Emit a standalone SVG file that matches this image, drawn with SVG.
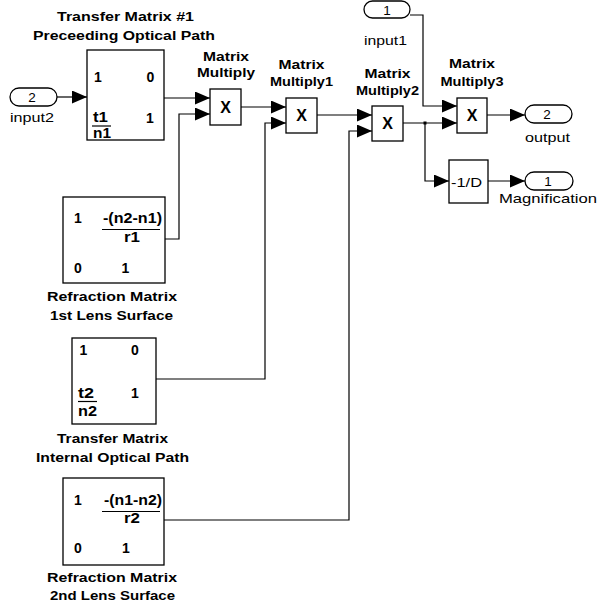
<svg xmlns="http://www.w3.org/2000/svg" width="597" height="607" viewBox="0 0 597 607">
<defs>
<style>
.blk{fill:#fff;stroke:#000;stroke-width:1.3}
.port{fill:#fff;stroke:#000;stroke-width:1.3}
.ln{fill:none;stroke:#000;stroke-width:1.2}
text{font-family:"Liberation Sans",Arial,sans-serif;font-size:13.5px;fill:#000}
.b{font-weight:bold}
.e{font-weight:bold;font-size:14px}
.m{text-anchor:middle}
.bx{font-weight:bold;font-size:16px;text-anchor:middle}
</style>
<marker id="arr" markerUnits="userSpaceOnUse" markerWidth="15" markerHeight="13" refX="15" refY="6.5" orient="auto">
<path d="M0,0 L15,6.5 L0,13 z" fill="#000"/>
</marker>
</defs>
<rect width="597" height="607" fill="#fff"/>

<g id="connectors">
<path class="ln" d="M57,97 H87" marker-end="url(#arr)"/>
<path class="ln" d="M164,98 H210" marker-end="url(#arr)"/>
<path class="ln" d="M165,239 H179 V114 H210" marker-end="url(#arr)"/>
<path class="ln" d="M241,107 H286" marker-end="url(#arr)"/>
<path class="ln" d="M156,379 H265 V123 H286" marker-end="url(#arr)"/>
<path class="ln" d="M317,115 H372" marker-end="url(#arr)"/>
<path class="ln" d="M164,520 H349 V131 H372" marker-end="url(#arr)"/>
<path class="ln" d="M403,123 H457" marker-end="url(#arr)"/>
<path class="ln" d="M425,123 V181 H449" marker-end="url(#arr)"/>
<rect x="423.5" y="121.5" width="3" height="3" fill="#000"/>
<path class="ln" d="M410,15 H423 V106 H457" marker-end="url(#arr)"/>
<path class="ln" d="M487,115 H525" marker-end="url(#arr)"/>
<path class="ln" d="M488,181 H525" marker-end="url(#arr)"/>
</g>

<g id="input2">
<rect class="port" x="10" y="88" width="47" height="18" rx="9"/>
<text class="m" x="32" y="102">2</text>
<text x="10" y="122" textLength="44" lengthAdjust="spacingAndGlyphs">input2</text>
</g>

<g id="input1">
<rect class="port" x="364" y="1" width="46" height="17" rx="8.5"/>
<text class="m" x="387" y="14.5">1</text>
<text x="364" y="45" textLength="43" lengthAdjust="spacingAndGlyphs">input1</text>
</g>

<g id="output">
<rect class="port" x="525" y="105" width="47" height="18" rx="9"/>
<text class="m" x="547" y="119">2</text>
<text x="525" y="142" textLength="45" lengthAdjust="spacingAndGlyphs">output</text>
</g>

<g id="magnification">
<rect class="port" x="525" y="172" width="48" height="18" rx="9"/>
<text class="m" x="548" y="186">1</text>
<text x="499" y="203" textLength="98" lengthAdjust="spacingAndGlyphs">Magnification</text>
</g>

<g id="transfer-matrix-1">
<rect class="blk" x="87" y="50" width="77" height="90"/>
<text class="b" x="57" y="21" textLength="137" lengthAdjust="spacingAndGlyphs">Transfer Matrix #1</text>
<text class="b" x="33" y="40" textLength="182" lengthAdjust="spacingAndGlyphs">Preceeding Optical Path</text>
<text class="e m" x="98" y="82">1</text>
<text class="e m" x="150.5" y="82">0</text>
<text class="e" x="93" y="122" textLength="15" lengthAdjust="spacingAndGlyphs">t1</text>
<line class="ln" x1="92" y1="126" x2="111" y2="126"/>
<text class="e" x="93" y="138" textLength="18" lengthAdjust="spacingAndGlyphs">n1</text>
<text class="e m" x="150" y="123">1</text>
</g>

<g id="matrix-multiply">
<rect class="blk" x="210" y="89" width="31" height="36"/>
<text class="bx" x="225.5" y="113">X</text>
<text class="b" x="203" y="61" textLength="46" lengthAdjust="spacingAndGlyphs">Matrix</text>
<text class="b" x="197" y="77" textLength="58" lengthAdjust="spacingAndGlyphs">Multiply</text>
</g>

<g id="matrix-multiply1">
<rect class="blk" x="286" y="98" width="31" height="35"/>
<text class="bx" x="301.5" y="121">X</text>
<text class="b" x="278.5" y="69" textLength="46" lengthAdjust="spacingAndGlyphs">Matrix</text>
<text class="b" x="270" y="86" textLength="63" lengthAdjust="spacingAndGlyphs">Multiply1</text>
</g>

<g id="matrix-multiply2">
<rect class="blk" x="372" y="106" width="31" height="35"/>
<text class="bx" x="387.5" y="129">X</text>
<text class="b" x="364.5" y="78" textLength="46" lengthAdjust="spacingAndGlyphs">Matrix</text>
<text class="b" x="356" y="95" textLength="63" lengthAdjust="spacingAndGlyphs">Multiply2</text>
</g>

<g id="matrix-multiply3">
<rect class="blk" x="457" y="98" width="30" height="35"/>
<text class="bx" x="472" y="121">X</text>
<text class="b" x="449" y="68" textLength="46" lengthAdjust="spacingAndGlyphs">Matrix</text>
<text class="b" x="440.5" y="86" textLength="63" lengthAdjust="spacingAndGlyphs">Multiply3</text>
</g>

<g id="gain">
<rect class="blk" x="449" y="160" width="39" height="43"/>
<text x="451" y="187" textLength="31" lengthAdjust="spacingAndGlyphs">-1/D</text>
</g>

<g id="refraction-matrix-1">
<rect class="blk" x="63" y="197" width="102" height="86"/>
<text class="e m" x="78" y="223">1</text>
<text class="e" x="103" y="223" textLength="59" lengthAdjust="spacingAndGlyphs">-(n2-n1)</text>
<line class="ln" x1="102" y1="229.5" x2="160" y2="229.5"/>
<text class="e" x="124" y="242" textLength="16" lengthAdjust="spacingAndGlyphs">r1</text>
<text class="e m" x="78" y="273">0</text>
<text class="e m" x="125.5" y="273">1</text>
<text class="b" x="47" y="301" textLength="130" lengthAdjust="spacingAndGlyphs">Refraction Matrix</text>
<text class="b" x="50" y="320" textLength="123" lengthAdjust="spacingAndGlyphs">1st Lens Surface</text>
</g>

<g id="transfer-matrix-internal">
<rect class="blk" x="72" y="338" width="84" height="86"/>
<text class="e m" x="83.5" y="355">1</text>
<text class="e m" x="135" y="355">0</text>
<text class="e" x="78" y="398" textLength="16" lengthAdjust="spacingAndGlyphs">t2</text>
<line class="ln" x1="78" y1="401.5" x2="97" y2="401.5"/>
<text class="e" x="78" y="416" textLength="19" lengthAdjust="spacingAndGlyphs">n2</text>
<text class="e m" x="135" y="398">1</text>
<text class="b" x="57" y="443" textLength="111" lengthAdjust="spacingAndGlyphs">Transfer Matrix</text>
<text class="b" x="36" y="462" textLength="153" lengthAdjust="spacingAndGlyphs">Internal Optical Path</text>
</g>

<g id="refraction-matrix-2">
<rect class="blk" x="63" y="478" width="101" height="87"/>
<text class="e m" x="78" y="505">1</text>
<text class="e" x="104" y="505" textLength="58" lengthAdjust="spacingAndGlyphs">-(n1-n2)</text>
<line class="ln" x1="102" y1="511.5" x2="160" y2="511.5"/>
<text class="e" x="124" y="523" textLength="16" lengthAdjust="spacingAndGlyphs">r2</text>
<text class="e m" x="78" y="553">0</text>
<text class="e m" x="126" y="553">1</text>
<text class="b" x="47" y="582" textLength="130" lengthAdjust="spacingAndGlyphs">Refraction Matrix</text>
<text class="b" x="50" y="600" textLength="125" lengthAdjust="spacingAndGlyphs">2nd Lens Surface</text>
</g>
</svg>
